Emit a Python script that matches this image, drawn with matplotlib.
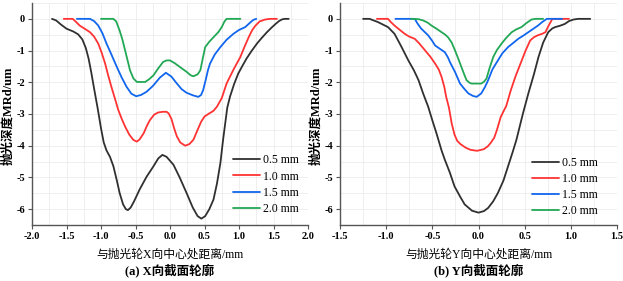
import matplotlib
matplotlib.use("Agg")
import matplotlib.pyplot as plt
from matplotlib.ticker import MultipleLocator

# ---------------- data ----------------
labels = ["0.5 mm", "1.0 mm", "1.5 mm", "2.0 mm"]
colors = ["#303030", "#ff3333", "#1166ee", "#22a855"]

# X-direction profiles
xa_05 = [-1.71, -1.65, -1.58, -1.50, -1.40, -1.33, -1.27, -1.22, -1.18, -1.14, -1.10, -1.05, -1.00, -0.96, -0.92,
         -0.87, -0.82, -0.77, -0.73, -0.68, -0.64, -0.61, -0.57, -0.52, -0.44, -0.34, -0.24, -0.17, -0.11, -0.05,
         0.05, 0.14, 0.24, 0.33, 0.40, 0.455, 0.51, 0.57, 0.63, 0.68, 0.73, 0.77, 0.80, 0.83, 0.87, 0.93, 0.99,
         1.05, 1.11, 1.18, 1.26, 1.33, 1.405, 1.47, 1.53, 1.58, 1.62, 1.66, 1.72]
ya_05 = [0.0, -0.05, -0.18, -0.31, -0.40, -0.49, -0.65, -0.92, -1.25, -1.70, -2.20, -2.80, -3.45, -3.90, -4.15,
         -4.35, -4.65, -5.10, -5.49, -5.85, -6.00, -6.03, -5.95, -5.75, -5.38, -4.98, -4.65, -4.40, -4.29, -4.35,
         -4.60, -5.00, -5.49, -5.95, -6.22, -6.30, -6.22, -6.00, -5.70, -5.20, -4.55, -3.80, -3.30, -2.80, -2.45, -2.05, -1.72,
         -1.48, -1.25, -1.02, -0.78, -0.60, -0.42, -0.28, -0.16, -0.07, -0.02, 0.0, 0.0]
xa_10 = [-1.54, -1.41, -1.36, -1.31, -1.23, -1.16, -1.10, -1.04, -0.99, -0.94, -0.90, -0.85, -0.80, -0.75, -0.70,
         -0.65, -0.59, -0.53, -0.48, -0.44, -0.38, -0.33, -0.29, -0.23, -0.17, -0.10, -0.05, -0.02, 0.02, 0.06, 0.10,
         0.15, 0.22, 0.28, 0.34, 0.40, 0.45, 0.50, 0.57, 0.63, 0.68, 0.75, 0.82, 0.92, 1.02, 1.08, 1.14, 1.19, 1.24,
         1.30, 1.38, 1.45, 1.55]
ya_10 = [0.0, 0.0, -0.10, -0.21, -0.32, -0.42, -0.56, -0.78, -1.07, -1.41, -1.75, -2.14, -2.50, -2.87, -3.15,
         -3.40, -3.65, -3.82, -3.87, -3.80, -3.60, -3.35, -3.19, -3.02, -2.95, -2.93, -2.93, -2.98, -3.15, -3.45, -3.71,
         -3.90, -4.00, -3.95, -3.81, -3.50, -3.25, -3.08, -2.98, -2.90, -2.77, -2.50, -2.04, -1.60, -1.20, -0.88, -0.58, -0.36, -0.21,
         -0.08, -0.02, 0.0, 0.0]
xa_15 = [-1.35, -1.16, -1.10, -1.04, -0.98, -0.92, -0.85, -0.77, -0.70, -0.63, -0.56, -0.49, -0.42, -0.34, -0.25,
         -0.145, -0.06, 0.02, 0.10, 0.17, 0.24, 0.33, 0.41, 0.45, 0.48, 0.52, 0.55, 0.58, 0.65, 0.73, 0.82, 0.92,
         1.00, 1.09, 1.13, 1.17, 1.21, 1.25]
ya_15 = [0.0, 0.0, -0.07, -0.21, -0.45, -0.78, -1.12, -1.52, -1.85, -2.14, -2.36, -2.44, -2.40, -2.30, -2.12,
         -1.85, -1.70, -1.82, -2.04, -2.22, -2.33, -2.41, -2.46, -2.40, -2.25, -1.90, -1.62, -1.41, -1.12, -0.89, -0.66, -0.47,
         -0.35, -0.26, -0.18, -0.10, -0.03, 0.0]
xa_20 = [-1.00, -0.82, -0.78, -0.73, -0.69, -0.65, -0.61, -0.58, -0.53, -0.48, -0.36, -0.30, -0.24, -0.17, -0.10,
         -0.05, 0.0, 0.07, 0.145, 0.24, 0.30, 0.34, 0.40, 0.44, 0.47, 0.51, 0.57, 0.63, 0.70, 0.75, 0.79, 0.82, 1.02]
ya_20 = [0.0, 0.0, -0.08, -0.37, -0.65, -1.00, -1.35, -1.62, -1.88, -1.99, -1.99, -1.90, -1.78, -1.56, -1.36,
         -1.31, -1.31, -1.40, -1.52, -1.67, -1.78, -1.81, -1.75, -1.62, -1.30, -0.89, -0.72, -0.58, -0.42, -0.26, -0.08, 0.0, 0.0]

# Y-direction profiles
xb_05 = [-1.25, -1.18, -1.09, -0.98, -0.91, -0.84, -0.76, -0.70, -0.65, -0.60, -0.545, -0.50, -0.455, -0.40, -0.365,
         -0.31, -0.26, -0.20, -0.15, -0.07, 0.0, 0.06, 0.105, 0.16, 0.21, 0.27, 0.32, 0.37, 0.41, 0.48, 0.54, 0.60,
         0.65, 0.70, 0.755, 0.80, 0.83, 0.88, 0.935, 0.98, 1.03, 1.08, 1.21]
yb_05 = [0.0, 0.0, -0.10, -0.26, -0.47, -0.85, -1.31, -1.62, -1.93, -2.35, -2.77, -3.20, -3.61, -4.15, -4.44,
         -4.85, -5.28, -5.60, -5.85, -6.05, -6.11, -6.06, -5.96, -5.75, -5.49, -5.10, -4.65, -4.20, -3.82, -3.00, -2.35, -1.75,
         -1.20, -0.75, -0.42, -0.30, -0.26, -0.22, -0.16, -0.07, -0.02, 0.0, 0.0]
xb_10 = [-1.10, -0.98, -0.95, -0.91, -0.86, -0.80, -0.75, -0.69, -0.64, -0.58, -0.52, -0.47, -0.43, -0.40, -0.37,
         -0.35, -0.32, -0.29, -0.26, -0.23, -0.195, -0.14, -0.087, -0.015, 0.057, 0.10, 0.13, 0.17, 0.20, 0.24, 0.27,
         0.30, 0.35, 0.40, 0.455, 0.51, 0.56, 0.60, 0.64, 0.69, 0.725, 0.76, 0.80, 0.98]
yb_10 = [0.0, 0.0, -0.10, -0.21, -0.33, -0.47, -0.56, -0.63, -0.78, -0.99, -1.20, -1.41, -1.60, -1.83, -2.15,
         -2.46, -2.80, -3.30, -3.65, -3.85, -3.95, -4.06, -4.13, -4.16, -4.11, -4.02, -3.92, -3.75, -3.50, -3.10, -2.92,
         -2.75, -2.25, -1.82, -1.41, -1.00, -0.68, -0.58, -0.52, -0.47, -0.42, -0.21, 0.0, 0.0]
xb_15 = [-0.90, -0.69, -0.66, -0.62, -0.545, -0.50, -0.47, -0.42, -0.365, -0.33, -0.31, -0.255, -0.20, -0.15, -0.11,
         -0.06, -0.02, 0.03, 0.07, 0.105, 0.15, 0.21, 0.26, 0.32, 0.38, 0.43, 0.49, 0.54, 0.60, 0.645, 0.69, 0.74, 0.905]
yb_15 = [0.0, 0.0, -0.15, -0.31, -0.52, -0.70, -0.84, -0.94, -1.05, -1.22, -1.36, -1.67, -2.04, -2.22, -2.35,
         -2.43, -2.46, -2.35, -2.15, -1.93, -1.60, -1.31, -1.08, -0.89, -0.75, -0.63, -0.52, -0.42, -0.30, -0.21, -0.10, 0.0, 0.0]
xb_20 = [-0.73, -0.65, -0.60, -0.55, -0.51, -0.45, -0.40, -0.36, -0.33, -0.29, -0.255, -0.22, -0.185, -0.155, -0.13,
         -0.10, -0.076, 0.03, 0.06, 0.087, 0.12, 0.16, 0.20, 0.25, 0.30, 0.36, 0.41, 0.465, 0.52, 0.575, 0.62, 0.70]
yb_20 = [0.0, -0.01, -0.05, -0.12, -0.21, -0.32, -0.42, -0.50, -0.58, -0.75, -0.99, -1.25, -1.52, -1.75, -1.93,
         -2.01, -2.04, -2.04, -1.98, -1.88, -1.55, -1.20, -0.98, -0.78, -0.60, -0.42, -0.33, -0.26, -0.13, -0.02, 0.0, 0.0]

xticks_a = [-2.0, -1.5, -1.0, -0.5, 0.0, 0.5, 1.0, 1.5, 2.0]
xticks_b = [-1.5, -1.0, -0.5, 0.0, 0.5, 1.0, 1.5]
yticks = [0, -1, -2, -3, -4, -5, -6]

xlabel_a = "与抛光轮X向中心处距离/mm"
xlabel_b = "与抛光轮Y向中心处距离/mm"
ylabel = "抛光深度MRd/um"
title_a = "(a) X向截面轮廓"
title_b = "(b) Y向截面轮廓"

# ---------------- figure ----------------
FAM = ["Liberation Serif", "Noto Sans CJK SC", "DejaVu Sans"]
plt.rcParams["font.family"] = FAM

W, H = 623, 281
fig = plt.figure(figsize=(W / 100, H / 100), dpi=100)

def make_ax(l, r, t, b):
    return fig.add_axes([l / W, 1 - b / H, (r - l) / W, (b - t) / H])

axA = make_ax(32, 308, 3, 225)
axB = make_ax(340, 617, 3, 225)

seriesA = [(xa_05, ya_05), (xa_10, ya_10), (xa_15, ya_15), (xa_20, ya_20)]
seriesB = [(xb_05, yb_05), (xb_10, yb_10), (xb_15, yb_15), (xb_20, yb_20)]

for ax, series, xt, xlab, ttl, lim, leg_xy in [
    (axA, seriesA, xticks_a, xlabel_a, title_a, (-2.0, 2.0), (0.728, 0.318)),
    (axB, seriesB, xticks_b, xlabel_b, title_b, (-1.5, 1.5), (0.693, 0.306)),
]:
    for (xs, ys), c, lab in zip(series, colors, labels):
        ax.plot(xs, ys, color=c, lw=1.3, label=lab, solid_joinstyle="round", solid_capstyle="round")
    ax.set_xlim(*lim)
    ax.set_ylim(-6.5, 0.5)
    ax.set_xticks(xt)
    ax.set_xticklabels([f"{v:.1f}" for v in xt])
    ax.set_yticks(yticks)
    ax.set_yticklabels([str(v) for v in yticks])
    ax.xaxis.set_minor_locator(MultipleLocator(0.25))
    ax.yaxis.set_minor_locator(MultipleLocator(0.5))
    ax.grid(True, which="both", color="#ececec", lw=0.6, ls="-")
    ax.set_axisbelow(True)
    for s in ["top", "right"]:
        ax.spines[s].set_visible(False)
    for s in ["left", "bottom"]:
        ax.spines[s].set_color("#555555")
        ax.spines[s].set_linewidth(1.0)
    ax.tick_params(axis="both", which="major", direction="out", length=3, width=0.8,
                   color="#555555", labelsize=7.5, pad=2)
    ax.tick_params(which="minor", length=0)
    for tl in ax.get_xticklabels() + ax.get_yticklabels():
        tl.set_fontweight("bold")
    ax.text(0.5, -0.135, xlab, transform=ax.transAxes, ha="center", va="center", fontsize=8.5)
    ax.set_ylabel(ylabel, fontsize=9, fontweight="bold")
    ax.yaxis.set_label_coords(-0.062, 0.49)
    ax.text(0.5, -0.203, ttl, transform=ax.transAxes, ha="center", va="center",
            fontsize=9, fontweight="bold")
    ax.legend(loc="upper left", bbox_to_anchor=leg_xy, frameon=False, fontsize=8.5,
              handlelength=2.3, handletextpad=0.25, labelspacing=0.35, borderpad=0,
              borderaxespad=0)

fig.savefig("out.png", dpi=100)
